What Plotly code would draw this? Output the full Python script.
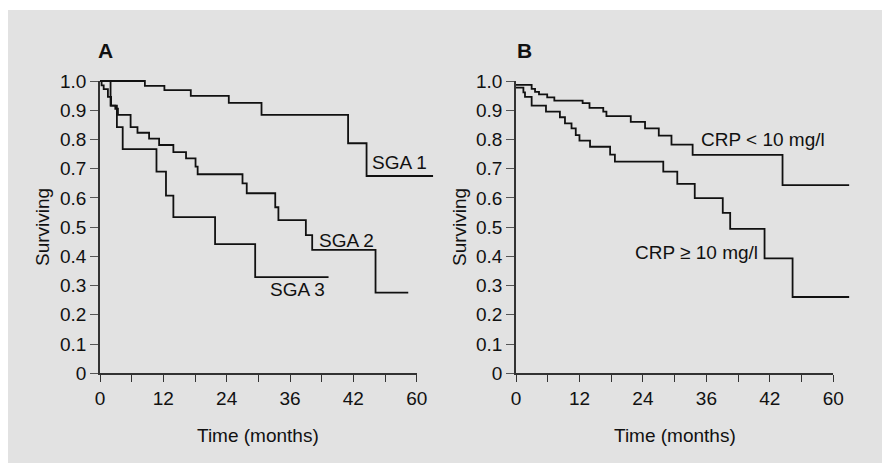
import plotly.graph_objects as go

# ---------------- data ----------------
sga1_t = [0, 8.5, 12.2, 17.2, 24.4, 30.6, 47.0, 50.5, 63.1]
sga1_s = [1.0, 0.983, 0.969, 0.949, 0.925, 0.884, 0.787, 0.675, 0.675]

sga2_t = [0, 0.3, 0.7, 1.5, 2.1, 2.9, 3.4, 5.8, 7.1, 9.3, 11.2, 13.9, 16.3, 18.1, 18.5,
          27.0, 27.8, 33.2, 33.8, 39.0, 40.2, 52.2, 58.4]
sga2_s = [1.0, 0.985, 0.972, 0.946, 0.916, 0.905, 0.884, 0.842, 0.823, 0.803, 0.781, 0.757,
          0.735, 0.707, 0.681, 0.650, 0.616, 0.568, 0.524, 0.473, 0.422, 0.276, 0.276]

sga3_t = [0, 2.0, 3.2, 4.3, 10.7, 12.5, 13.9, 21.8, 29.4, 43.3]
sga3_s = [1.0, 0.916, 0.842, 0.767, 0.690, 0.608, 0.534, 0.442, 0.329, 0.329]

crp_lo_t = [0, 2.96, 3.6, 4.35, 5.9, 7.25, 12.6, 13.9, 16.5, 17.1, 21.7, 24.4, 27.0, 29.4,
            33.4, 50.4, 63.0]
crp_lo_s = [0.987, 0.973, 0.963, 0.954, 0.944, 0.933, 0.924, 0.908, 0.895, 0.880, 0.860,
            0.838, 0.813, 0.782, 0.747, 0.644, 0.644]

crp_hi_t = [0, 1.4, 1.7, 2.96, 5.67, 8.3, 9.26, 10.5, 11.3, 12.0, 14.0, 17.8, 18.7, 27.85,
            30.5, 33.8, 39.1, 40.5, 47.0, 52.3, 63.0]
crp_hi_s = [0.977, 0.961, 0.946, 0.916, 0.895, 0.876, 0.855, 0.838, 0.815, 0.796, 0.775,
            0.748, 0.724, 0.690, 0.648, 0.599, 0.549, 0.494, 0.393, 0.261, 0.261]

x_tickvals = [0, 6, 12, 18, 24, 30, 36, 42, 48, 54, 60]
x_ticktext = ["0", "", "12", "", "24", "", "36", "", "42", "", "60"]
y_tickvals = [0, 0.1, 0.2, 0.3, 0.4, 0.5, 0.6, 0.7, 0.8, 0.9, 1.0]
y_ticktext = ["0", "0.1", "0.2", "0.3", "0.4", "0.5", "0.6", "0.7", "0.8", "0.9", "1.0"]

# ---------------- layout geometry ----------------
OFF = 8                      # page body margin
W, H = 900, 462
FONT = "Liberation Sans, Arial, sans-serif"
BG = "#e2e2e2"
FS = 19

# pixel positions in the page, converted to figure pixels
ax_a_px = (100 - OFF, 416.7 - OFF)   # x=0 .. x=60, panel A
ax_b_px = (516 - OFF, 833.3 - OFF)   # panel B
y0_px, y1_px = 373.3 - OFF, 81 - OFF  # y=0 and y=1.0 rows
XMAX_DATA = 64
YMAX_DATA = 1.03


def xdom(p0, p1, span):
    per = (p1 - p0) / 60.0
    return [p0 / W, (p0 + per * span) / W]


def ydom(span):
    per = (y0_px - y1_px) / 1.0
    return [(H - y0_px) / H, (H - (y0_px - per * span)) / H]


def px(x):
    return (x - OFF) / W


def py(y):
    return 1 - (y - OFF) / H


fig = go.Figure()
line = dict(color="#111111", width=1.8, shape="hv")

for t, s in [(sga1_t, sga1_s), (sga2_t, sga2_s), (sga3_t, sga3_s)]:
    fig.add_trace(go.Scatter(x=t, y=s, mode="lines", line=line, xaxis="x", yaxis="y",
                             showlegend=False, hoverinfo="skip"))
for t, s in [(crp_lo_t, crp_lo_s), (crp_hi_t, crp_hi_s)]:
    fig.add_trace(go.Scatter(x=t, y=s, mode="lines", line=line, xaxis="x2", yaxis="y2",
                             showlegend=False, hoverinfo="skip"))
# empty traces to instantiate the axis-decoration subplots
fig.add_trace(go.Scatter(x=[], y=[], xaxis="x3", yaxis="y3", showlegend=False))
fig.add_trace(go.Scatter(x=[], y=[], xaxis="x4", yaxis="y4", showlegend=False))

hidden = dict(showline=False, showgrid=False, zeroline=False, showticklabels=False,
              ticks="", fixedrange=True)

deco_x = dict(range=[0, 60], tickvals=x_tickvals, ticktext=x_ticktext, ticks="outside",
              ticklen=7, tickwidth=1.3, tickcolor="#333333", showline=True,
              linecolor="#333333", linewidth=1.6, showgrid=False, zeroline=False,
              tickfont=dict(family=FONT, size=FS, color="#111111"), automargin=False)
deco_y = dict(range=[0, 1.0], tickvals=y_tickvals, ticktext=y_ticktext, ticks="outside",
              ticklen=8, tickwidth=1.3, tickcolor="#555555", showline=True,
              linecolor="#333333", linewidth=1.6, showgrid=False, zeroline=False,
              tickfont=dict(family=FONT, size=FS, color="#111111"), automargin=False)

fig.update_layout(
    width=W, height=H,
    margin=dict(l=0, r=0, t=0, b=0),
    paper_bgcolor="white",
    plot_bgcolor="rgba(0,0,0,0)",
    font=dict(family=FONT, size=FS, color="#111111"),
    xaxis=dict(domain=xdom(*ax_a_px, XMAX_DATA), range=[0, XMAX_DATA], anchor="y", **hidden),
    yaxis=dict(domain=ydom(YMAX_DATA), range=[0, YMAX_DATA], anchor="x", **hidden),
    xaxis2=dict(domain=xdom(*ax_b_px, XMAX_DATA), range=[0, XMAX_DATA], anchor="y2", **hidden),
    yaxis2=dict(domain=ydom(YMAX_DATA), range=[0, YMAX_DATA], anchor="x2", **hidden),
    xaxis3=dict(domain=xdom(*ax_a_px, 60), anchor="y3", **deco_x),
    yaxis3=dict(domain=ydom(1.0), anchor="x3", **deco_y),
    xaxis4=dict(domain=xdom(*ax_b_px, 60), anchor="y4", **deco_x),
    yaxis4=dict(domain=ydom(1.0), anchor="x4", **deco_y),
    shapes=[dict(type="rect", xref="paper", yref="paper", x0=0, x1=1, y0=0,
                 y1=1 - 2 / H, fillcolor=BG, line=dict(width=0), layer="below")],
)

ann = []
# curve labels
for txt, x, y, xr, yr in [
    ("SGA 1", 56.8, 0.721, "x", "y"),
    ("SGA 2", 46.7, 0.455, "x", "y"),
    ("SGA 3", 37.5, 0.288, "x", "y"),
    ("CRP < 10 mg/l", 46.8, 0.801, "x2", "y2"),
    ("CRP ≥ 10 mg/l", 34.2, 0.413, "x2", "y2"),
]:
    ann.append(dict(text=txt, x=x, y=y, xref=xr, yref=yr, showarrow=False,
                    xanchor="center", yanchor="middle",
                    font=dict(family=FONT, size=FS, color="#111111")))
# panel letters
for txt, ax, ay in [("A", 105.5, 50), ("B", 524.5, 50.5)]:
    ann.append(dict(text=f"<b>{txt}</b>", x=px(ax), y=py(ay), xref="paper", yref="paper",
                    showarrow=False, xanchor="center", yanchor="middle",
                    font=dict(family=FONT, size=21, color="#111111")))
# axis titles
for ax in [(100 + 416.7) / 2, (516 + 833.3) / 2]:
    ann.append(dict(text="Time (months)", x=px(ax), y=py(435), xref="paper",
                    yref="paper", showarrow=False, xanchor="center", yanchor="middle",
                    font=dict(family=FONT, size=FS, color="#111111")))
for ax in [42, 459]:
    ann.append(dict(text="Surviving", x=px(ax), y=py(227), xref="paper", yref="paper",
                    showarrow=False, xanchor="center", yanchor="middle", textangle=-90,
                    font=dict(family=FONT, size=FS, color="#111111")))
fig.update_layout(annotations=ann)

fig.write_html("out.html")
